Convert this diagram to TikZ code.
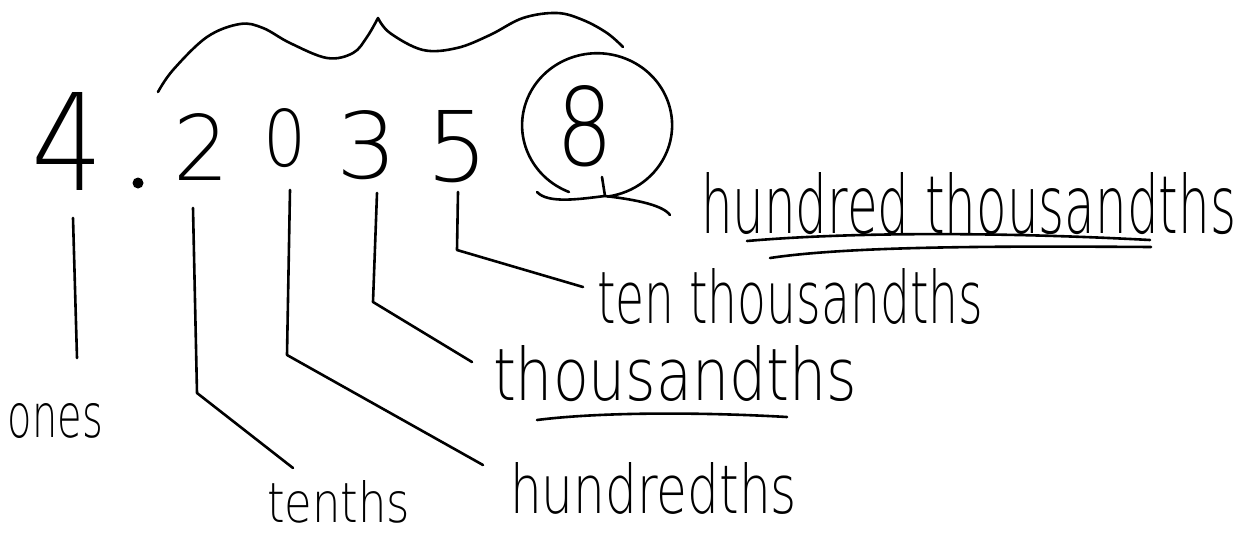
\documentclass[tikz,border=0pt]{standalone}
\usepackage{fontspec}
\usepackage{graphicx}
\newfontfamily\penfont{DejaVu Sans ExtraLight}
\newcommand\penbox[3]{\resizebox{#1pt}{#2pt}{\penfont #3}}
\tikzset{
  pen/.style={line width=2.6pt, line cap=round, line join=round},
  digitbox/.style={inner sep=0pt, outer sep=0pt, anchor=south},
  lbl/.style={inner sep=0pt, outer sep=0pt, anchor=base west}
}
\begin{document}
\begin{tikzpicture}[x=1pt,y=-1pt]
\useasboundingbox (0,0) rectangle (1243,533);
\fill[white] (0,0) rectangle (1243,533);
% digits
\node[digitbox] (d4) at (68,190) {\penbox{72}{98}{4}};
\fill (138,183) circle[radius=5.5];
\node[digitbox] (d2) at (202,180) {\penbox{56}{67}{2}};
\node[digitbox] (d0) at (285,168) {\penbox{43}{58}{0}};
\node[digitbox] (d3) at (367,180) {\penbox{61}{68}{3}};
\node[digitbox] (d5) at (458,183) {\penbox{62}{71}{5}};
\node[digitbox] (d8) at (585,167) {\penbox{57}{80}{8}};
% circle round the 8
\draw[pen] (569,192) arc[start angle=112, end angle=442, x radius=75, y radius=72];
\draw[pen] (537,192) .. controls (548,204) and (580,199) .. (605,196)
  .. controls (630,199) and (662,204) .. (670,215);
\draw[pen] (602,177) -- (605,196);
% brace
\draw[pen] plot[smooth, tension=0.6] coordinates {(158,92) (173,70) (207,37) (240,24) (263,28) (290,43) (327,58) (353,53) (367,37) (378,18)};
\draw[pen] plot[smooth, tension=0.6] coordinates {(378,18) (390,33) (423,50) (457,48) (490,35) (523,18) (557,13) (583,20) (607,33) (623,47)};
% labels
\node[lbl] (lones) at (8,437) {\penbox{95}{34}{ones}};
\node[lbl] (ltenths) at (267,522) {\penbox{143}{42}{tenths}};
\node[lbl] (lhund) at (510,513) {\penbox{287}{51}{hundredths}};
\node[lbl] (lthou) at (493,400) {\penbox{364}{55}{thousandths}};
\node[lbl] (ltenth) at (597,323) {\penbox{386}{55}{ten thousandths}};
\node[lbl] (lhth) at (701,233) {\penbox{535}{61}{hundred thousandths}};
% connector end points
\coordinate (o1) at (73,218);  \coordinate (o2) at (77,358);
\coordinate (t1) at (193,208); \coordinate (t2) at (197,393); \coordinate (t3) at (293,468);
\coordinate (h1) at (290,190); \coordinate (h2) at (287,355); \coordinate (h3) at (483,465);
\coordinate (k1) at (377,193); \coordinate (k2) at (373,302); \coordinate (k3) at (472,362);
\coordinate (m1) at (458,192); \coordinate (m2) at (457,250); \coordinate (m3) at (583,287);
\draw[pen] (o1) -- (o2);
\draw[pen] (t1) -- (t2) -- (t3);
\draw[pen] (h1) -- (h2) -- (h3);
\draw[pen] (k1) -- (k2) -- (k3);
\draw[pen] (m1) -- (m2) -- (m3);
% underlines
\draw[pen] (537,420) .. controls (600,412) and (700,412) .. (787,417);
\draw[pen] (747,241) .. controls (850,232) and (1000,232) .. (1150,240);
\draw[pen] (770,258) .. controls (850,246) and (1000,246) .. (1151,247);
\end{tikzpicture}
\end{document}
